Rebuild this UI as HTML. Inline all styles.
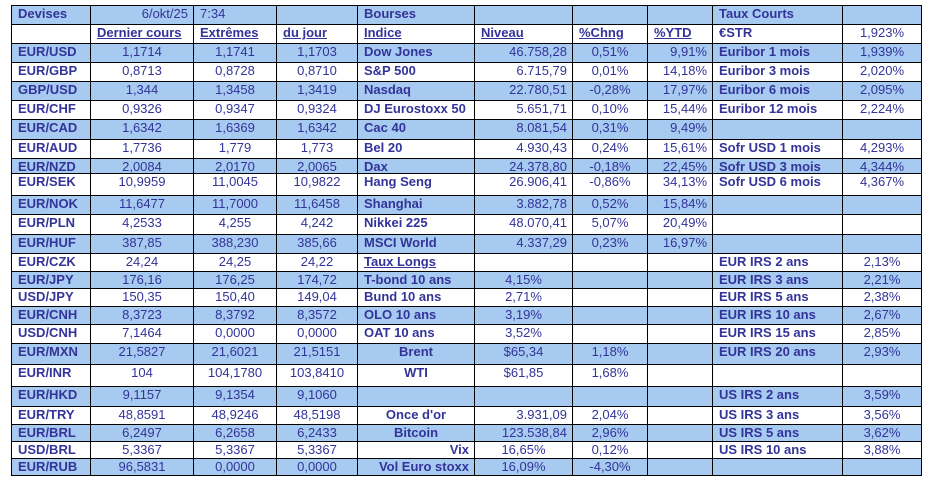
<!DOCTYPE html>
<html>
<head>
<meta charset="utf-8">
<style>
html,body{margin:0;padding:0;background:#fff;}
body{width:927px;height:481px;position:relative;overflow:hidden;font-family:"Liberation Sans",Arial,sans-serif;font-size:13px;color:#333399;}
.row{position:absolute;left:11px;display:flex;}
.bl{background:#A6CAF0;}
.row>div{box-sizing:border-box;border-left:1px solid #000;border-top:1px solid #000;height:100%;line-height:15px;white-space:nowrap;overflow:visible;}
.row>div:nth-child(1){width:79px;}
.row>div:nth-child(2){width:103px;}
.row>div:nth-child(3){width:83px;}
.row>div:nth-child(4){width:81px;}
.row>div:nth-child(5){width:117px;}
.row>div:nth-child(6){width:98px;}
.row>div:nth-child(7){width:75px;}
.row>div:nth-child(8){width:65px;}
.row>div:nth-child(9){width:130px;}
.row>div:nth-child(10){width:80px;border-right:1px solid #000;}
.l{text-align:left;padding-left:6px;}
.r{text-align:right;padding-right:5px;}
.c{text-align:center;}
.b{font-weight:bold;}
.u{text-decoration:underline;}
.bot{position:absolute;left:11px;top:475px;width:911px;height:1px;background:#000;}
</style>
</head>
<body>

<div class="row bl" style="top:5px;height:19px;">
<div class="l b">Devises</div><div class="r">6/okt/25</div><div class="l">7:34</div><div></div><div class="l b">Bourses</div><div></div><div></div><div></div><div class="l b">Taux Courts</div><div></div>
</div>

<div class="row" style="top:24px;height:19px;">
<div></div><div class="l b u">Dernier cours</div><div class="l b u">Extrêmes</div><div class="l b u">du jour</div><div class="l b u">Indice</div><div class="l b u">Niveau</div><div class="l b u">%Chng</div><div class="l b u">%YTD</div><div class="l b">€STR</div><div class="c">1,923%</div>
</div>

<div class="row bl" style="top:43px;height:19px;">
<div class="l b">EUR/USD</div><div class="c">1,1714</div><div class="c">1,1741</div><div class="c">1,1703</div><div class="l b">Dow Jones</div><div class="r">46.758,28</div><div class="c">0,51%</div><div class="r">9,91%</div><div class="l b">Euribor 1 mois</div><div class="c">1,939%</div>
</div>

<div class="row" style="top:62px;height:19px;">
<div class="l b">EUR/GBP</div><div class="c">0,8713</div><div class="c">0,8728</div><div class="c">0,8710</div><div class="l b">S&amp;P 500</div><div class="r">6.715,79</div><div class="c">0,01%</div><div class="r">14,18%</div><div class="l b">Euribor 3 mois</div><div class="c">2,020%</div>
</div>

<div class="row bl" style="top:81px;height:19px;">
<div class="l b">GBP/USD</div><div class="c">1,344</div><div class="c">1,3458</div><div class="c">1,3419</div><div class="l b">Nasdaq</div><div class="r">22.780,51</div><div class="c">-0,28%</div><div class="r">17,97%</div><div class="l b">Euribor 6 mois</div><div class="c">2,095%</div>
</div>

<div class="row" style="top:100px;height:19px;">
<div class="l b">EUR/CHF</div><div class="c">0,9326</div><div class="c">0,9347</div><div class="c">0,9324</div><div class="l b">DJ Eurostoxx 50</div><div class="r">5.651,71</div><div class="c">0,10%</div><div class="r">15,44%</div><div class="l b">Euribor 12 mois</div><div class="c">2,224%</div>
</div>

<div class="row bl" style="top:119px;height:20px;">
<div class="l b">EUR/CAD</div><div class="c">1,6342</div><div class="c">1,6369</div><div class="c">1,6342</div><div class="l b">Cac 40</div><div class="r">8.081,54</div><div class="c">0,31%</div><div class="r">9,49%</div><div></div><div></div>
</div>

<div class="row" style="top:139px;height:19px;">
<div class="l b">EUR/AUD</div><div class="c">1,7736</div><div class="c">1,779</div><div class="c">1,773</div><div class="l b">Bel 20</div><div class="r">4.930,43</div><div class="c">0,24%</div><div class="r">15,61%</div><div class="l b">Sofr USD 1 mois</div><div class="c">4,293%</div>
</div>

<div class="row bl" style="top:158px;height:15px;">
<div class="l b">EUR/NZD</div><div class="c">2,0084</div><div class="c">2,0170</div><div class="c">2,0065</div><div class="l b">Dax</div><div class="r">24.378,80</div><div class="c">-0,18%</div><div class="r">22,45%</div><div class="l b">Sofr USD 3 mois</div><div class="c">4,344%</div>
</div>

<div class="row" style="top:173px;height:22px;">
<div class="l b">EUR/SEK</div><div class="c">10,9959</div><div class="c">11,0045</div><div class="c">10,9822</div><div class="l b">Hang Seng</div><div class="r">26.906,41</div><div class="c">-0,86%</div><div class="r">34,13%</div><div class="l b">Sofr USD 6 mois</div><div class="c">4,367%</div>
</div>

<div class="row bl" style="top:195px;height:19px;">
<div class="l b">EUR/NOK</div><div class="c">11,6477</div><div class="c">11,7000</div><div class="c">11,6458</div><div class="l b">Shanghai</div><div class="r">3.882,78</div><div class="c">0,52%</div><div class="r">15,84%</div><div></div><div></div>
</div>

<div class="row" style="top:214px;height:20px;">
<div class="l b">EUR/PLN</div><div class="c">4,2533</div><div class="c">4,255</div><div class="c">4,242</div><div class="l b">Nikkei 225</div><div class="r">48.070,41</div><div class="c">5,07%</div><div class="r">20,49%</div><div></div><div></div>
</div>

<div class="row bl" style="top:234px;height:19px;">
<div class="l b">EUR/HUF</div><div class="c">387,85</div><div class="c">388,230</div><div class="c">385,66</div><div class="l b">MSCI World</div><div class="r">4.337,29</div><div class="c">0,23%</div><div class="r">16,97%</div><div></div><div></div>
</div>

<div class="row" style="top:253px;height:18px;">
<div class="l b">EUR/CZK</div><div class="c">24,24</div><div class="c">24,25</div><div class="c">24,22</div><div class="l b u">Taux Longs</div><div></div><div></div><div></div><div class="l b">EUR IRS 2 ans</div><div class="c">2,13%</div>
</div>

<div class="row bl" style="top:271px;height:17px;">
<div class="l b">EUR/JPY</div><div class="c">176,16</div><div class="c">176,25</div><div class="c">174,72</div><div class="l b">T-bond 10 ans</div><div class="c">4,15%</div><div></div><div></div><div class="l b">EUR IRS 3 ans</div><div class="c">2,21%</div>
</div>

<div class="row" style="top:288px;height:18px;">
<div class="l b">USD/JPY</div><div class="c">150,35</div><div class="c">150,40</div><div class="c">149,04</div><div class="l b">Bund 10 ans</div><div class="c">2,71%</div><div></div><div></div><div class="l b">EUR IRS 5 ans</div><div class="c">2,38%</div>
</div>

<div class="row bl" style="top:306px;height:18px;">
<div class="l b">EUR/CNH</div><div class="c">8,3723</div><div class="c">8,3792</div><div class="c">8,3572</div><div class="l b">OLO 10 ans</div><div class="c">3,19%</div><div></div><div></div><div class="l b">EUR IRS 10 ans</div><div class="c">2,67%</div>
</div>

<div class="row" style="top:324px;height:19px;">
<div class="l b">USD/CNH</div><div class="c">7,1464</div><div class="c">0,0000</div><div class="c">0,0000</div><div class="l b">OAT 10 ans</div><div class="c">3,52%</div><div></div><div></div><div class="l b">EUR IRS 15 ans</div><div class="c">2,85%</div>
</div>

<div class="row bl" style="top:343px;height:21px;">
<div class="l b">EUR/MXN</div><div class="c">21,5827</div><div class="c">21,6021</div><div class="c">21,5151</div><div class="c b">Brent</div><div class="c">$65,34</div><div class="c">1,18%</div><div></div><div class="l b">EUR IRS 20 ans</div><div class="c">2,93%</div>
</div>

<div class="row" style="top:364px;height:22px;">
<div class="l b">EUR/INR</div><div class="c">104</div><div class="c">104,1780</div><div class="c">103,8410</div><div class="c b">WTI</div><div class="c">$61,85</div><div class="c">1,68%</div><div></div><div></div><div></div>
</div>

<div class="row bl" style="top:386px;height:20px;">
<div class="l b">EUR/HKD</div><div class="c">9,1157</div><div class="c">9,1354</div><div class="c">9,1060</div><div></div><div></div><div></div><div></div><div class="l b">US IRS 2 ans</div><div class="c">3,59%</div>
</div>

<div class="row" style="top:406px;height:18px;">
<div class="l b">EUR/TRY</div><div class="c">48,8591</div><div class="c">48,9246</div><div class="c">48,5198</div><div class="c b">Once d'or</div><div class="r">3.931,09</div><div class="c">2,04%</div><div></div><div class="l b">US IRS 3 ans</div><div class="c">3,56%</div>
</div>

<div class="row bl" style="top:424px;height:17px;">
<div class="l b">EUR/BRL</div><div class="c">6,2497</div><div class="c">6,2658</div><div class="c">6,2433</div><div class="c b">Bitcoin</div><div class="r">123.538,84</div><div class="c">2,96%</div><div></div><div class="l b">US IRS 5 ans</div><div class="c">3,62%</div>
</div>

<div class="row" style="top:441px;height:17px;">
<div class="l b">USD/BRL</div><div class="c">5,3367</div><div class="c">5,3367</div><div class="c">5,3367</div><div class="r b">Vix</div><div class="c">16,65%</div><div class="c">0,12%</div><div></div><div class="l b">US IRS 10 ans</div><div class="c">3,88%</div>
</div>

<div class="row bl" style="top:458px;height:17px;">
<div class="l b">EUR/RUB</div><div class="c">96,5831</div><div class="c">0,0000</div><div class="c">0,0000</div><div class="r b">Vol Euro stoxx</div><div class="c">16,09%</div><div class="c">-4,30%</div><div></div><div></div><div></div>
</div>

<div class="bot"></div>

</body>
</html>
